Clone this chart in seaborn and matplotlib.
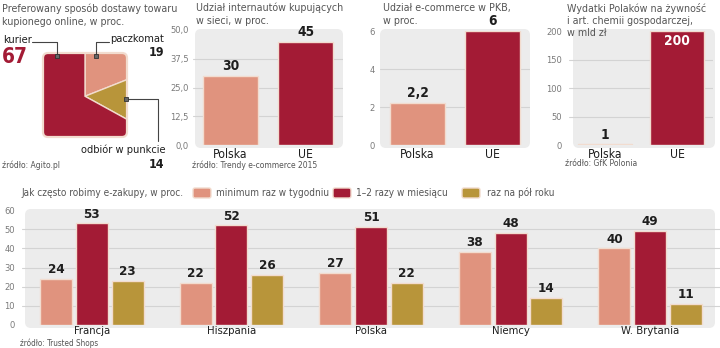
import numpy as np
import pandas as pd
import matplotlib
matplotlib.use('Agg')
import matplotlib.pyplot as plt
import seaborn as sns
from matplotlib.patches import FancyBboxPatch
from matplotlib import font_manager as fm
from matplotlib.textpath import TextPath
from matplotlib.font_manager import FontProperties

# ---------------- data ----------------
delivery_labels = ['paczkomat', 'odbiór w punkcie', 'kurier']
delivery_values = [19, 14, 67]

pair_cats = ['Polska', 'UE']
internet_share = [30, 45]
gdp_share = [2.2, 6]
spending = [1, 200]

countries = ['Francja', 'Hiszpania', 'Polska', 'Niemcy', 'W. Brytania']
freq_series = ['minimum raz w tygodniu', '1–2 razy w miesiącu', 'raz na pół roku']
weekly = [24, 22, 27, 38, 40]
monthly = [53, 52, 51, 48, 49]
halfyear = [23, 26, 22, 14, 11]

# ---------------- style ----------------
SALMON = '#e0937e'
RED = '#a31b35'
GOLD = '#b8953a'
BG = '#ececec'
GRID = '#d3d3d3'
TXT = '#555555'
DARK = '#1e1e1e'
EDGE = '#f2dccf'

sns.set_theme(style='white')

# choose a narrow font if one is installed
ttf = fm.fontManager.ttflist
FAM, STRETCH = 'Roboto', 'normal'
if any(f.name == 'Liberation Sans Narrow' for f in ttf):
    FAM, STRETCH = 'Liberation Sans Narrow', 'normal'
elif any(f.name == 'DejaVu Sans' and f.stretch == 'condensed' for f in ttf):
    FAM, STRETCH = 'DejaVu Sans', 'condensed'
else:
    conds = [f.name for f in ttf if 'Condensed' in f.name or 'Narrow' in f.name]
    if conds:
        FAM = conds[0]
plt.rcParams['font.family'] = [FAM, 'DejaVu Sans']
plt.rcParams['font.stretch'] = STRETCH


def fit(s, target_px, weight='normal'):
    fp = FontProperties(family=[FAM, 'DejaVu Sans'], weight=weight, stretch=STRETCH, size=10)
    w = TextPath((0, 0), s, prop=fp).get_extents().width
    return 10 * target_px / (w * 100 / 72)


TITLE = fit('Preferowany sposób dostawy towaru', 161) * 1.08
BTITLE = fit('Jak często robimy e-zakupy, w proc.', 158) * 1.02
SRC = fit('źródło: Trendy e-commerce 2015', 120) * 1.04
XTOP = fit('Polska', 28) * 1.15
XBOT = fit('Francja', 33) * 1.05
YT = fit('50,0', 16) * 1.1
VTOP = fit('45', 12, 'bold') * 1.3
VBOT = fit('53', 11, 'bold') * 1.35

W, H = 720, 348
fig = plt.figure(figsize=(7.2, 3.48), dpi=100)
fig.patch.set_facecolor('white')


def px_axes(x0, y0, x1, y1):
    return fig.add_axes([x0 / W, 1 - y1 / H, (x1 - x0) / W, (y1 - y0) / H])


# background layer (pixel coords)
bg = fig.add_axes([0, 0, 1, 1])
bg.set_xlim(0, W)
bg.set_ylim(H, 0)
bg.axis('off')
bg.set_zorder(-5)
for (x0, y0, x1, y1) in [(195, 29, 343, 148), (380, 29, 530, 148),
                         (573, 29, 715, 148), (25, 209, 715, 328)]:
    bg.add_patch(FancyBboxPatch((x0, y0), x1 - x0, y1 - y0,
                                boxstyle='round,pad=0,rounding_size=6',
                                fc=BG, ec='none'))


def fmt(v):
    return ('%g' % v).replace('.', ',')


def style_axes(ax, ymax, ticks, tick_fmt, pad_y, xsize, xpad=2):
    ax.patch.set_visible(False)
    ax.set_ylim(0, ymax)
    ax.set_yticks(ticks)
    ax.set_yticklabels([tick_fmt(t) for t in ticks])
    for s in ax.spines.values():
        s.set_visible(False)
    ax.tick_params(axis='y', length=0, labelsize=YT, labelcolor='#7a7a7a', pad=pad_y)
    ax.tick_params(axis='x', length=0, labelsize=xsize, labelcolor=DARK, pad=xpad)
    for t in ticks:
        if 0 < t < ymax:
            ax.axhline(t, color=GRID, lw=0.8, zorder=0.5)
    ax.set_xlabel('')
    ax.set_ylabel('')
    ax.grid(False)


def label_bars(ax, size, pad=2, inside=None):
    for cont in ax.containers:
        for bar in cont:
            h = bar.get_height()
            if np.isnan(h):
                continue
            x = bar.get_x() + bar.get_width() / 2
            if inside is not None and h >= inside:
                ax.annotate(fmt(h), (x, h), xytext=(0, -2), textcoords='offset points',
                            ha='center', va='top', fontsize=size, fontweight='bold',
                            color='white')
            else:
                ax.annotate(fmt(h), (x, h), xytext=(0, pad), textcoords='offset points',
                            ha='center', va='bottom', fontsize=size, fontweight='bold',
                            color=DARK)


# ---------------- panel 1: square pie ----------------
axp = px_axes(43, 53, 127, 137)
wedges, _ = axp.pie(delivery_values, colors=[SALMON, GOLD, RED], startangle=90,
                    counterclock=False, radius=2.5, center=(0, -0.03),
                    wedgeprops=dict(edgecolor=EDGE, linewidth=1))
axp.set_xlim(-1, 1)
axp.set_ylim(-1, 1)
axp.set_aspect('auto')
axp.axis('off')
clip = FancyBboxPatch((-1, -1), 2, 2, boxstyle='round,pad=0,rounding_size=0.12',
                      transform=axp.transData, fc='none', ec='none')
axp.add_patch(clip)
for w in wedges:
    w.set_clip_on(True)
    w.set_clip_path(clip)
axp.add_patch(FancyBboxPatch((-1, -1), 2, 2, boxstyle='round,pad=0,rounding_size=0.12',
                             fc='none', ec=EDGE, lw=1.6, zorder=5, clip_on=False))

# ---------------- panel 2 ----------------
ax2 = px_axes(193, 30, 343, 145)
sns.barplot(x=pair_cats, y=internet_share, hue=pair_cats, palette=[SALMON, RED],
            legend=False, width=0.74, saturation=1, edgecolor=EDGE, linewidth=1, ax=ax2)
style_axes(ax2, 50, [0, 12.5, 25, 37.5, 50], lambda t: ('%.1f' % t).replace('.', ','), 3, XTOP)
label_bars(ax2, VTOP)

# ---------------- panel 3 ----------------
ax3 = px_axes(380, 31, 530, 145)
sns.barplot(x=pair_cats, y=gdp_share, hue=pair_cats, palette=[SALMON, RED],
            legend=False, width=0.74, saturation=1, edgecolor=EDGE, linewidth=1, ax=ax3)
style_axes(ax3, 6, [0, 2, 4, 6], lambda t: '%d' % t, 4, XTOP)
label_bars(ax3, VTOP)

# ---------------- panel 4 ----------------
ax4 = px_axes(569, 31, 713, 145)
sns.barplot(x=pair_cats, y=spending, hue=pair_cats, palette=[SALMON, RED],
            legend=False, width=0.74, saturation=1, edgecolor=EDGE, linewidth=1, ax=ax4)
style_axes(ax4, 200, [0, 50, 100, 150, 200], lambda t: '%d' % t, 5, XTOP)
label_bars(ax4, VTOP, inside=100)

# ---------------- bottom panel ----------------
df = pd.DataFrame({
    'kraj': countries * 3,
    'seria': [freq_series[0]] * 5 + [freq_series[1]] * 5 + [freq_series[2]] * 5,
    'wartosc': weekly + monthly + halfyear,
})
axb = px_axes(22, 210, 720, 325)
sns.barplot(data=df, x='kraj', y='wartosc', hue='seria', hue_order=freq_series,
            palette=[SALMON, RED, GOLD], width=0.77, gap=0.11, saturation=1,
            edgecolor=EDGE, linewidth=1, legend=False, ax=axb)
style_axes(axb, 60, [0, 10, 20, 30, 40, 50, 60], lambda t: '%d' % t, 5, XBOT, xpad=0.5)
axb.set_xlim(-0.5, 4.5)
label_bars(axb, VBOT)

# ---------------- overlay texts (pixel coords) ----------------
ov = fig.add_axes([0, 0, 1, 1])
ov.set_xlim(0, W)
ov.set_ylim(H, 0)
ov.axis('off')
ov.set_zorder(10)
ov.patch.set_visible(False)


def t(x, y, s, size, color=TXT, ha='left', weight='normal'):
    ov.text(x, y, s, fontsize=size, color=color, ha=ha, va='center', fontweight=weight)


# titles
t(2, 9, 'Preferowany sposób dostawy towaru', TITLE)
t(2, 22, 'kupionego online, w proc.', TITLE)
t(196, 8, 'Udział internautów kupujących', TITLE)
t(196, 21, 'w sieci, w proc.', TITLE)
t(383, 8, 'Udział e-commerce w PKB,', TITLE)
t(383, 21, 'w proc.', TITLE)
t(567, 8, 'Wydatki Polaków na żywność', TITLE)
t(567, 21, 'i art. chemii gospodarczej,', TITLE)
t(567, 33, 'w mld zł', TITLE)
t(21, 193, 'Jak często robimy e-zakupy, w proc.', BTITLE)

# sources
t(2, 165, 'źródło: Agito.pl', SRC)
t(192, 165, 'źródło: Trendy e-commerce 2015', SRC)
t(565, 164, 'źródło: GfK Polonia', SRC)
t(20, 343.5, 'źródło: Trusted Shops', SRC * 0.95)

# pie callouts
LC = '#444444'
ov.plot([57, 57, 32], [56, 42, 42], color=LC, lw=0.8)
ov.plot([96, 96, 109], [56, 42, 42], color=LC, lw=0.8)
ov.plot([126, 158, 158], [99, 99, 141], color=LC, lw=0.8)
for (mx, my) in [(57, 56), (96, 56), (126, 99)]:
    ov.plot(mx, my, marker='s', ms=3.5, mfc='#666666', mec='#333333', mew=0.6)
LAB = fit('paczkomat', 48) * 1.1
NUM = fit('19', 10, 'bold') * 1.35
t(3, 40, 'kurier', LAB, color=DARK)
t(2, 57, fmt(delivery_values[2]), fit('67', 18, 'bold') * 1.3, color=RED, weight='bold')
t(164, 39, 'paczkomat', LAB, color=DARK, ha='right')
t(164, 53, fmt(delivery_values[0]), NUM, color=DARK, ha='right', weight='bold')
t(166, 150, 'odbiór w punkcie', LAB, color=DARK, ha='right')
t(164, 164, fmt(delivery_values[1]), NUM, color=DARK, ha='right', weight='bold')

# legend for bottom chart
LEG = fit('minimum raz w tygodniu', 110)
for (px, lx, col, lab) in [(193, 216, SALMON, freq_series[0]),
                           (333, 356, RED, freq_series[1]),
                           (462, 487, GOLD, freq_series[2])]:
    ov.add_patch(FancyBboxPatch((px, 188), 18, 10, boxstyle='round,pad=0,rounding_size=2',
                                fc=col, ec=EDGE, lw=1))
    t(lx, 193, lab, LEG)

fig.savefig('out.png', dpi=100, facecolor='white')
